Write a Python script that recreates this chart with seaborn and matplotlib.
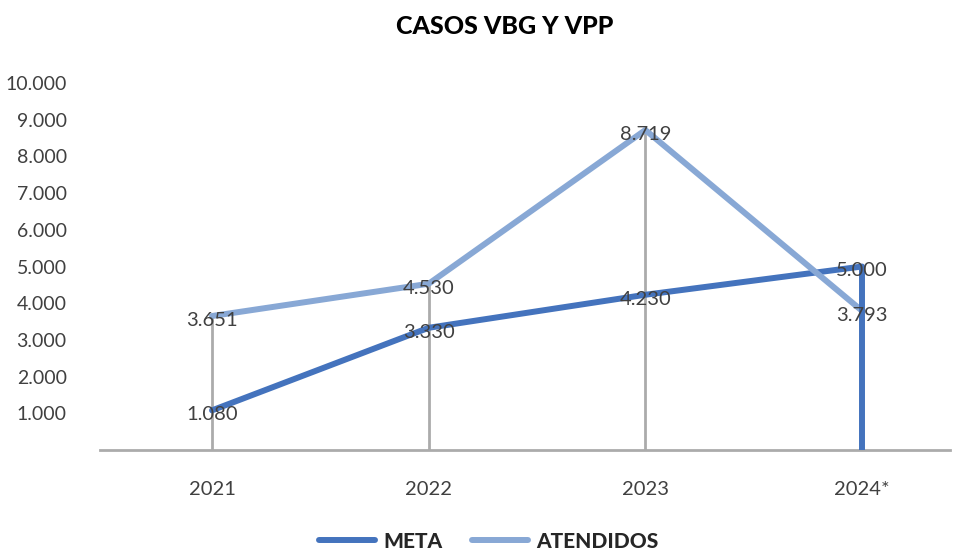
import matplotlib
matplotlib.use("Agg")
import matplotlib.pyplot as plt
import numpy as np
import pandas as pd
import seaborn as sns

years = ["2021", "2022", "2023", "2024*"]
meta = [1080, 3330, 4230, 5000]
atendidos = [3651, 4530, 8719, 3793]
y_ticks = [1000, 2000, 3000, 4000, 5000, 6000, 7000, 8000, 9000, 10000]

META_C = "#4473BD"
AT_C = "#88A8D5"
GRID_C = "#ABABAB"
TXT_C = "#404040"


def fmt(v):
    return f"{v:,}".replace(",", ".")


sns.set_style("white")
plt.rcParams["font.family"] = ["Lato", "DejaVu Sans"]

df = pd.DataFrame({
    "pos": list(range(len(years))) * 2,
    "valor": meta + atendidos,
    "serie": ["META"] * len(years) + ["ATENDIDOS"] * len(years),
})

fig = plt.figure(figsize=(9.56, 5.5), dpi=100)
ax = fig.add_axes([100 / 956, 100 / 550, 850 / 956, 367 / 550])

# drop lines from the highest value down to the axis
tops = np.maximum(meta, atendidos)
ax.vlines(range(len(years)), 0, tops, color=GRID_C, lw=2, zorder=1)

sns.lineplot(data=df, x="pos", y="valor", hue="serie",
             palette={"META": META_C, "ATENDIDOS": AT_C},
             hue_order=["META", "ATENDIDOS"], lw=4.3, legend=False,
             ax=ax, zorder=3)
# META closes down to the axis on the last year
ax.vlines(len(years) - 1, 0, meta[-1], color=META_C, lw=4.3, zorder=3)

for i in range(len(years)):
    ax.text(i, meta[i] - 120, fmt(meta[i]), ha="center", va="center",
            fontsize=14.5, color=TXT_C, zorder=4)
    ax.text(i, atendidos[i] - 120, fmt(atendidos[i]), ha="center", va="center",
            fontsize=14.5, color=TXT_C, zorder=4)

ax.set_xlim(-0.517, 3.406)
ax.set_ylim(0, 10000)
ax.set_xticks(range(len(years)))
ax.set_xticklabels(years)
ax.set_yticks(y_ticks)
ax.set_yticklabels([fmt(v) for v in y_ticks])
ax.tick_params(axis="x", length=0, pad=22, labelsize=14.5, labelcolor=TXT_C)
ax.tick_params(axis="y", length=0, pad=24, labelsize=14, labelcolor=TXT_C)
for s in ["top", "right", "left"]:
    ax.spines[s].set_visible(False)
ax.spines["bottom"].set_color(GRID_C)
ax.spines["bottom"].set_linewidth(2)
ax.set_xlabel("")
ax.set_ylabel("")

fig.text(505 / 956, 1 - 27 / 550, "CASOS VBG Y VPP", ha="center", va="center",
         fontsize=18, fontweight="black", color="black")

handles = [plt.Line2D([], [], color=META_C, lw=4.3),
           plt.Line2D([], [], color=AT_C, lw=4.3)]
fig.legend(handles, ["META", "ATENDIDOS"], loc="center",
           bbox_to_anchor=(489 / 956, 1 - 541 / 550), ncol=2, frameon=False,
           handlelength=2.7, columnspacing=1.4, handletextpad=0.4,
           prop={"size": 15, "weight": "black"})

fig.savefig("out.png", dpi=100)
